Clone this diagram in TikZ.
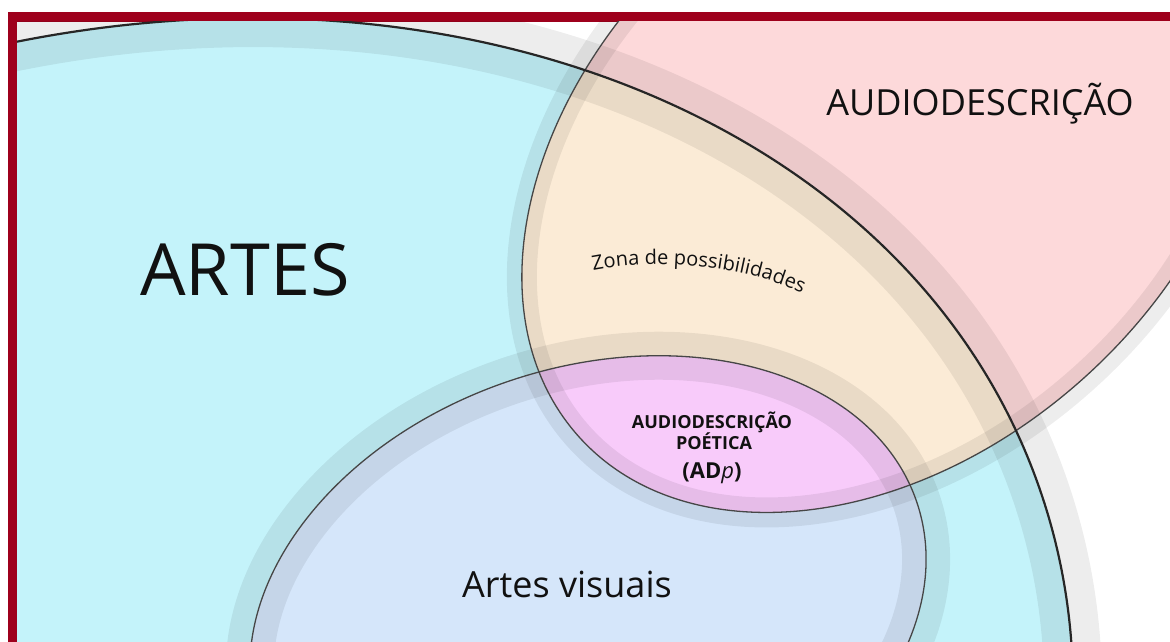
\documentclass[tikz,border=0pt]{standalone}
\usepackage{fontspec}
\setmainfont{Open Sans}
\usetikzlibrary{decorations.text}
\definecolor{frameRed}{RGB}{158,0,28}
\definecolor{cyanA}{RGB}{196,243,250}
\definecolor{pinkA}{RGB}{253,217,218}
\definecolor{peachA}{RGB}{251,235,214}
\definecolor{avA}{RGB}{213,230,250}
\definecolor{purpleA}{RGB}{248,203,250}
\definecolor{lineA}{RGB}{70,70,70}
\definecolor{txt}{RGB}{17,17,17}
\def\artesE{(100,813) ellipse [x radius=994, y radius=768]}
\def\pinkE{(887,161) ellipse [x radius=413.5, y radius=293]}
\def\avE{(588,613) ellipse [x radius=347, y radius=245]}
\tikzset{
  artesT/.style={rotate around={18.9:(100,813)}},
  pinkT/.style={rotate around={41.7:(887,161)}},
  avT/.style={rotate around={18.6:(588,613)}},
  band/.style={draw=black, draw opacity=0.07},
  outl/.style={draw=lineA, line width=1.3},
  lbl/.style={anchor=base, text=txt, inner sep=0pt}
}
\begin{document}
\begin{tikzpicture}[x=1pt,y=-1pt]
\useasboundingbox (0,0) rectangle (1170,642);
\fill[white] (0,0) rectangle (1170,642);
\fill[frameRed] (8,12) rectangle (1170,642);
\begin{scope}
  \clip (17,22) rectangle (1170,642);
  \fill[white] (17,22) rectangle (1170,642);
  \fill[cyanA, artesT] \artesE;
  \fill[pinkA, pinkT] \pinkE;
  \begin{scope}
    \clip[artesT] \artesE;
    \fill[peachA, pinkT] \pinkE;
  \end{scope}
  \fill[avA, avT] \avE;
  \begin{scope}
    \clip[avT] \avE;
    \fill[purpleA, pinkT] \pinkE;
  \end{scope}
  % soft bands along the borders
  \path[band, line width=58, artesT] \artesE;
  \path[band, line width=48, avT] \avE;
  \path[band, line width=30, pinkT] \pinkE;
  % outlines
  \path[outl, avT] \avE;
  \path[outl, pinkT] \pinkE;
  \path[draw=black!85, line width=2.2, artesT] \artesE;
\end{scope}
% texts
\node[lbl, font=\fontsize{72}{72}\selectfont] (artes) at (245,295) {ARTES};
\node[lbl, font=\fontsize{36}{36}\selectfont] (ad) at (980,115) {AUDIODESCRIÇÃO};
\node[lbl, font=\bfseries\fontsize{18}{18}\selectfont] (adp1) at (712,428) {AUDIODESCRIÇÃO};
\node[lbl, font=\bfseries\fontsize{18}{18}\selectfont] (adp2) at (714,449) {POÉTICA};
\node[lbl, font=\bfseries\fontsize{22}{22}\selectfont] (adp3) at (712,478) {(AD\textit{\mdseries p})};
\node[lbl, font=\fontsize{36}{36}\selectfont] (av) at (567,597) {Artes visuais};
\path[decorate, decoration={text along path, text align=center,
  text={|\fontsize{20}{20}\selectfont\color{txt}|Zona de possibilidades}}]
  (578,274) .. controls (640,257) and (748,262) .. (816,300);
\end{tikzpicture}
\end{document}
